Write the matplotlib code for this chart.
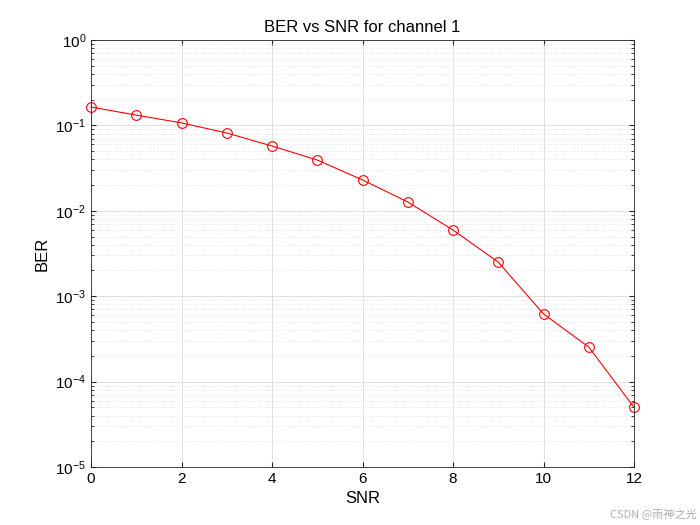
import matplotlib
matplotlib.use("Agg")
import matplotlib.pyplot as plt

snr = [0, 1, 2, 3, 4, 5, 6, 7, 8, 9, 10, 11, 12]
ber = [0.164, 0.132, 0.107, 0.0815, 0.0574, 0.0393, 0.0230, 0.0127,
       0.00596, 0.00251, 0.00062, 0.000254, 5.0e-5]

plt.rcParams['font.family'] = ['Liberation Sans', 'DejaVu Sans']
fig = plt.figure(figsize=(7, 5.25), dpi=100)
ax = fig.add_axes([91/700, 1-467/525, (634-91)/700, (467-40)/525])
ax.semilogy(snr, ber, '-o', color='#ff0000', lw=0.8, markersize=7,
            markerfacecolor='none', markeredgewidth=0.8, clip_on=False)
ax.set_xlim(0, 12)
ax.set_ylim(1e-5, 1)
ax.set_xticks(range(0, 13, 2))
ax.grid(True, which='major', color='#dcdcdc', lw=0.6)
ax.grid(True, which='minor', color='#e0e0e0', lw=0.6, ls=':')
ax.tick_params(which='both', direction='in', labelsize=11, top=True, right=True, color='#262626')
for s in ax.spines.values():
    s.set_color('#262626'); s.set_linewidth(0.6)
ax.set_xlabel('SNR', fontsize=12)
ax.set_ylabel('BER', fontsize=12)
ax.set_title('BER vs SNR for channel 1', fontsize=12)
fig.text(0.995, 0.01, 'CSDN @雨神之光', ha='right', va='bottom', fontsize=8,
         color='#b0b0b0', family=['Noto Sans CJK SC', 'DejaVu Sans'])
fig.savefig('out.png', dpi=100, facecolor='white')
